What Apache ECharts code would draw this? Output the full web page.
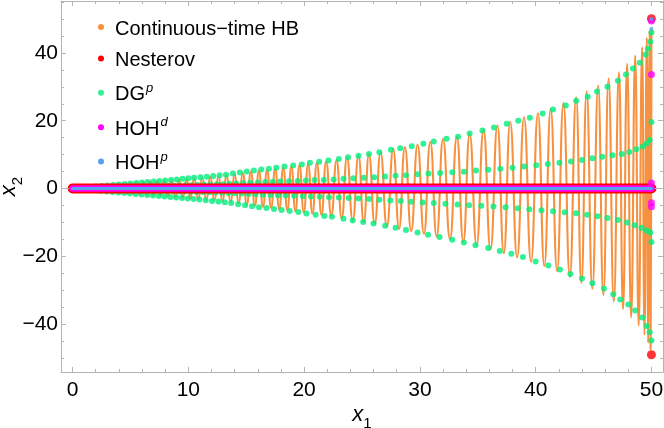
<!DOCTYPE html>
<html>
<head>
<meta charset="utf-8">
<script src="https://cdn.jsdelivr.net/npm/echarts@6/dist/echarts.min.js"></script>
<style>
  html, body { margin: 0; padding: 0; background: #fff; }
  #main { width: 664px; height: 428px; }
</style>
</head>
<body>
<div id="main"></div>
<script>
// tick positions
var xMajor = [0, 10, 20, 30, 40, 50];
var xMinor = [2, 4, 6, 8, 12, 14, 16, 18, 22, 24, 26, 28, 32, 34, 36, 38, 42, 44, 46, 48];
var yMajor = [-40, -20, 0, 20, 40];
var yMinor = [-50, -45, -35, -30, -25, -15, -10, -5, 5, 10, 15, 25, 30, 35, 45, 50, 55];

// continuous-time heavy ball: turning points of the oscillation
var hbPath = [
  [0, 0], [0.8, 0.25], [1.05, -0.3], [1.3, 0.4], [1.55, -0.47], [1.8, 0.55], [2.05, -0.62], [2.3, 0.7],
  [2.55, -0.78], [2.8, 0.85], [3.05, -0.92], [3.3, 1.0], [3.57, -1.05], [3.85, 1.1], [4.12, -1.2], [4.4, 1.3],
  [4.67, -1.37], [4.95, 1.45], [5.22, -1.52], [5.5, 1.6], [5.8, -1.68], [6.1, 1.75], [6.4, -1.85], [6.7, 1.95],
  [7.0, -2.02], [7.3, 2.1], [7.6, -2.2], [7.9, 2.3], [8.22, -2.37], [8.55, 2.45], [8.87, -2.55], [9.2, 2.65],
  [9.52, -2.75], [9.85, 2.85], [10.17, -2.95], [10.5, 3.05], [10.85, -3.15], [11.2, 3.25], [11.55, -3.35], [11.9, 3.45],
  [12.25, -3.57], [12.6, 3.7], [12.95, -3.82], [13.3, 3.95], [13.65, -4.1], [14.0, 4.25], [14.35, -4.42], [14.7, 4.6],
  [15.05, -4.75], [15.4, 4.9], [15.75, -5.05], [16.1, 5.2], [16.45, -5.35], [16.8, 5.5], [17.15, -5.67], [17.5, 5.85],
  [17.85, -6.0], [18.2, 6.15], [18.55, -6.32], [18.9, 6.5], [19.25, -6.67], [19.6, 6.85], [19.97, -7.02], [20.35, 7.2],
  [20.72, -7.37], [21.1, 7.55], [21.5, -7.72], [21.9, 7.9], [22.35, -8.1], [22.8, 8.3], [23.25, -8.75], [23.7, 9.2],
  [24.2, -9.45], [24.7, 9.7], [25.15, -9.95], [25.6, 10.2], [26.1, -10.45], [26.6, 10.7], [27.15, -11.2], [27.7, 11.7],
  [28.2, -11.95], [28.7, 12.2], [29.25, -12.6], [29.8, 13.0], [30.35, -13.35], [30.9, 13.7], [31.45, -14.15], [32.0, 14.6],
  [32.6, -14.95], [33.2, 15.3], [33.75, -15.7], [34.3, 16.1], [34.9, -16.7], [35.5, 17.3], [36.1, -17.95], [36.7, 18.6],
  [37.25, -19.1], [37.8, 19.6], [38.4, -20.3], [39.0, 21.0], [39.6, -21.6], [40.2, 22.2], [40.75, -22.85], [41.3, 23.5],
  [41.85, -24.35], [42.4, 25.2], [42.95, -26.05], [43.5, 26.9], [43.95, -27.8], [44.4, 28.7], [44.9, -29.55], [45.4, 30.4],
  [45.85, -31.4], [46.3, 32.4], [46.75, -33.35], [47.2, 34.3], [47.55, -35.55], [47.9, 36.8], [48.25, -38.0], [48.6, 39.2],
  [48.9, -40.45], [49.2, 41.7], [49.4, -43.1], [49.6, 44.5], [49.72, -45.5], [49.85, 46.6], [49.93, -47.5],
  [50.0, 47.0]
];

// DG^p iterates, four branches
var dgUpperOuter = [
  [2.0, 0.6], [2.5, 0.75], [3.0, 0.9], [3.5, 1.05], [4.0, 1.2], [4.5, 1.35], [5.0, 1.5], [5.5, 1.65], [6.0, 1.8],
  [6.5, 1.95], [7.0, 2.1], [7.5, 2.25], [8.0, 2.4], [8.5, 2.55], [9.0, 2.7], [9.5, 2.85], [10.0, 3.0], [10.5, 3.15],
  [11.05, 3.3], [11.6, 3.5], [12.15, 3.7], [12.7, 3.9], [13.25, 4.1], [13.85, 4.4], [14.45, 4.7], [15.05, 5.0],
  [15.66, 5.3], [16.3, 5.6], [16.96, 5.8], [17.6, 6.1], [18.3, 6.5], [19.06, 6.8], [19.8, 7.1], [20.5, 7.6],
  [21.3, 7.9], [22.1, 8.3], [23.0, 8.7], [23.8, 9.2], [24.7, 9.7], [25.6, 10.2], [26.5, 10.7], [27.5, 11.4],
  [28.3, 11.9], [29.3, 12.5], [30.3, 13.2], [31.2, 13.9], [32.3, 14.7], [33.3, 15.3], [34.3, 16.2], [35.4, 17.1],
  [36.4, 18.0], [37.5, 19.1], [38.5, 20.0], [39.5, 20.9], [40.6, 22.1], [41.5, 23.3], [42.6, 24.5], [43.5, 25.9],
  [44.5, 27.1], [45.3, 28.6], [46.2, 30.0], [47.1, 31.8], [47.8, 33.6], [48.4, 35.4], [49.0, 37.1], [49.5, 39.5],
  [49.7, 41.2], [49.9, 43.3], [50.0, 46.0]
];
var dgUpperInner = [
  [2.25, 0.2], [2.75, 0.25], [3.25, 0.3], [3.75, 0.35], [4.25, 0.4], [4.75, 0.45], [5.25, 0.5], [5.75, 0.55],
  [6.25, 0.6], [6.75, 0.65], [7.25, 0.7], [7.75, 0.75], [8.25, 0.8], [8.75, 0.85], [9.25, 0.9], [9.75, 0.95],
  [10.25, 1.0], [10.8, 1.05], [11.35, 1.1], [11.9, 1.15], [12.45, 1.25], [13.0, 1.3], [13.55, 1.4], [14.15, 1.5],
  [14.75, 1.6], [15.35, 1.7], [16.0, 1.8], [16.65, 1.9], [17.3, 2.0], [17.95, 2.05], [18.7, 2.15], [19.45, 2.25],
  [20.15, 2.35], [20.9, 2.5], [21.7, 2.55], [22.55, 2.65], [23.4, 2.85], [24.25, 3.0], [25.15, 3.15], [26.05, 3.35],
  [27.0, 3.55], [27.9, 3.75], [28.8, 3.95], [29.8, 4.2], [30.75, 4.4], [31.75, 4.6], [32.8, 4.8], [33.8, 4.95],
  [34.85, 5.3], [35.9, 5.55], [36.95, 5.85], [38.0, 6.1], [39.0, 6.5], [40.05, 6.9], [41.05, 7.25], [42.05, 7.6],
  [43.05, 7.95], [44.0, 8.45], [44.9, 8.9], [45.75, 9.35], [46.65, 9.8], [47.45, 10.2], [48.1, 10.8], [48.7, 11.6],
  [49.25, 12.4], [49.6, 13.3], [49.85, 14.3]
];
var dgLowerInner = [
  [2.7, -0.2], [3.2, -0.25], [3.7, -0.3], [4.2, -0.35], [4.7, -0.4], [5.2, -0.45], [5.7, -0.5], [6.2, -0.55],
  [6.7, -0.6], [7.2, -0.65], [7.7, -0.7], [8.2, -0.75], [8.7, -0.8], [9.2, -0.85], [9.7, -0.9], [10.2, -0.95],
  [10.7, -1.0], [11.25, -1.05], [11.8, -1.1], [12.35, -1.15], [12.9, -1.2], [13.45, -1.3], [14.0, -1.4], [14.6, -1.5],
  [15.2, -1.6], [15.8, -1.7], [16.45, -1.8], [17.1, -1.9], [17.75, -2.0], [18.4, -2.05], [19.15, -2.15], [19.9, -2.25],
  [20.6, -2.35], [21.35, -2.45], [22.15, -2.55], [23.0, -2.65], [23.85, -2.8], [24.7, -2.95], [25.6, -3.1], [26.5, -3.3],
  [27.45, -3.5], [28.35, -3.7], [29.25, -3.9], [30.25, -4.1], [31.2, -4.3], [32.2, -4.5], [33.25, -4.7], [34.25, -4.9],
  [35.3, -5.1], [36.35, -5.3], [37.4, -5.55], [38.45, -5.8], [39.45, -6.1], [40.5, -6.4], [41.5, -6.7], [42.5, -7.0],
  [43.5, -7.3], [44.45, -7.7], [45.35, -8.15], [46.2, -8.7], [47.1, -9.3], [47.9, -10.0], [48.55, -10.8], [49.15, -11.6],
  [49.6, -12.4], [49.9, -13.0]
];
var dgLowerOuter = [
  [2.45, -0.7], [2.95, -0.85], [3.45, -1.0], [3.95, -1.15], [4.45, -1.3], [4.95, -1.45], [5.45, -1.6], [5.95, -1.75],
  [6.45, -1.9], [6.95, -2.05], [7.45, -2.2], [7.95, -2.35], [8.45, -2.5], [8.95, -2.65], [9.45, -2.8], [9.95, -2.95],
  [10.45, -3.1], [10.95, -3.25], [11.5, -3.45], [12.05, -3.65], [12.6, -3.85], [13.15, -4.05], [13.7, -4.3], [14.3, -4.6],
  [14.9, -4.9], [15.5, -5.2], [16.1, -5.5], [16.75, -5.75], [17.4, -6.0], [18.05, -6.35], [18.75, -6.65], [19.5, -6.95],
  [20.2, -7.35], [21.0, -7.75], [21.75, -8.1], [22.4, -8.3], [23.4, -8.9], [24.2, -9.4], [25.1, -9.9], [26.0, -10.3],
  [27.0, -11.0], [27.9, -11.6], [28.8, -12.2], [29.8, -13.0], [30.7, -13.6], [31.7, -14.3], [32.8, -15.1], [33.8, -15.9],
  [34.8, -16.7], [35.9, -17.5], [36.9, -18.4], [37.9, -19.2], [38.9, -20.2], [40.0, -21.5], [41.1, -22.7], [42.1, -23.9],
  [43.0, -25.2], [44.0, -26.5], [44.9, -27.9], [45.9, -29.5], [46.7, -31.2], [47.3, -32.7], [48.0, -34.2], [48.6, -36.0],
  [49.2, -38.0], [49.6, -40.5], [49.85, -42.4], [50.0, -44.8]
];
var dgEnd = [[50.0, 19.6], [50.0, -15.8]];

// Nesterov, HOH^d, HOH^p: they sit on x2 = 0 all the way, then a few points at x1 = 50
var zeroPath = [[0, 0], [50, 0]];
var nesterovEnd = [[50.0, 50.1], [50.0, -49.0]];
var hohdEnd = [[50.0, 49.4], [50.0, 33.6], [50.0, 1.6], [50.0, -4.2], [50.0, -5.4]];
var hohpEnd = [[50.0, 50.0], [50.0, 47.1]];

var cHB = '#f8913f', cNes = '#ff0000', cDG = '#00ee7c', cHd = '#ff00ff', cHp = '#5aa2ee';
var gray = '#b4b4b4';
var font = '"Liberation Sans", Arial, sans-serif';

var legendText = {
  'Continuous\u2212time HB': '{n|Continuous\u2212time HB}',
  'Nesterov': '{n|Nesterov}',
  'DGp': '{n|DG}{s|p}',
  'HOHd': '{n|HOH}{s|d}',
  'HOHp': '{n|HOH}{s|p}'
};

function tickLabel(v) {
  return v < 0 ? '\u2212' + (-v) : String(v);
}

function frameAxis(pos, ticks, len, labels, extra) {
  var horiz = pos === 'bottom' || pos === 'top';
  var a = {
    type: 'value',
    position: pos,
    min: horiz ? -1 : -54.1,
    max: horiz ? 51 : 55.3,
    axisLine: { show: !!extra.line, onZero: false, lineStyle: { color: gray, width: 1 } },
    axisTick: { show: true, inside: true, length: len, customValues: ticks, lineStyle: { color: gray, width: 1 } },
    axisLabel: labels ? {
      customValues: ticks, formatter: tickLabel, color: '#000',
      fontSize: 21, fontFamily: font, margin: extra.margin
    } : { show: false },
    splitLine: { show: false }
  };
  if (extra.name) {
    a.name = extra.name;
    a.nameLocation = 'middle';
    a.nameGap = extra.nameGap;
    a.nameRotate = extra.nameRotate || 0;
    a.nameMoveOverlap = false;
    a.nameTextStyle = {
      color: '#000', fontFamily: font,
      rich: {
        i: { fontSize: 22, fontStyle: 'italic', fontFamily: font, color: '#000', verticalAlign: 'bottom', padding: [0, 0, 5, 0] },
        s: { fontSize: 15, fontFamily: font, color: '#000', verticalAlign: 'bottom' }
      }
    };
  }
  return a;
}

var chart = echarts.init(document.getElementById('main'), null, { renderer: 'canvas' });

chart.setOption({
  animation: false,
  backgroundColor: '#fff',
  grid: { left: 61, right: 1, top: 1, bottom: 56, outerBoundsMode: 'none', containLabel: false },
  legend: {
    orient: 'vertical',
    left: 93,
    top: 14,
    itemWidth: 18,
    itemHeight: 6,
    itemGap: 11.4,
    icon: 'circle',
    data: ['Continuous\u2212time HB', 'Nesterov', 'DGp', 'HOHd', 'HOHp'],
    formatter: function (name) { return legendText[name]; },
    textStyle: {
      fontFamily: font, fontSize: 20, color: '#000',
      rich: {
        n: { fontSize: 20, fontFamily: font, color: '#000', verticalAlign: 'bottom', lineHeight: 24 },
        s: { fontSize: 13, fontStyle: 'italic', fontFamily: font, color: '#000', verticalAlign: 'bottom', padding: [0, 0, 10, 1] }
      }
    }
  },
  xAxis: [
    frameAxis('bottom', xMajor, 5, true, { line: true, margin: 8, name: '{i|x}{s|1}', nameGap: 32 }),
    frameAxis('bottom', xMinor, 3, false, {}),
    frameAxis('top', xMajor, 5, false, { line: true }),
    frameAxis('top', xMinor, 3, false, {})
  ],
  yAxis: [
    frameAxis('left', yMajor, 5, true, { line: true, margin: 3, name: '{i|x}{s|2}', nameGap: 36, nameRotate: 90 }),
    frameAxis('left', yMinor, 3, false, {}),
    frameAxis('right', yMajor, 5, false, { line: true }),
    frameAxis('right', yMinor, 3, false, {})
  ],
  series: [
    {
      name: 'Continuous\u2212time HB', type: 'line', data: hbPath, z: 2,
      showSymbol: false, smooth: 0.5, smoothMonotone: 'x',
      lineStyle: { color: cHB, width: 2.1 }, itemStyle: { color: cHB },
      markLine: {
        silent: true, symbol: 'none', label: { show: false }, animation: false,
        lineStyle: { color: gray, width: 1, type: 'solid' },
        data: [{ yAxis: 0 }]
      }
    },
    { name: 'DGp', type: 'scatter', data: dgUpperOuter, symbolSize: 6, itemStyle: { color: cDG }, z: 3 },
    { name: 'DGp', type: 'scatter', data: dgUpperInner, symbolSize: 6, itemStyle: { color: cDG }, z: 3 },
    { name: 'DGp', type: 'scatter', data: dgLowerInner, symbolSize: 6, itemStyle: { color: cDG }, z: 3 },
    { name: 'DGp', type: 'scatter', data: dgLowerOuter, symbolSize: 6, itemStyle: { color: cDG }, z: 3 },
    { name: 'DGp', type: 'scatter', data: dgEnd, symbolSize: 6, itemStyle: { color: cDG }, z: 3 },
    {
      name: 'Nesterov', type: 'line', data: zeroPath, z: 4, showSymbol: false,
      lineStyle: { color: cNes, width: 10, cap: 'round' }, itemStyle: { color: cNes }
    },
    {
      name: 'HOHd', type: 'line', data: zeroPath, z: 5, showSymbol: false,
      lineStyle: { color: cHd, width: 6.5, cap: 'round' }, itemStyle: { color: cHd }
    },
    {
      name: 'HOHp', type: 'line', data: zeroPath, z: 6, showSymbol: false,
      lineStyle: { color: cHp, width: 3, cap: 'round' }, itemStyle: { color: cHp }
    },
    { name: 'Nesterov', type: 'scatter', data: nesterovEnd, symbolSize: 9, itemStyle: { color: cNes }, z: 7 },
    { name: 'HOHd', type: 'scatter', data: hohdEnd, symbolSize: 7, itemStyle: { color: cHd }, z: 8 },
    { name: 'HOHp', type: 'scatter', data: hohpEnd, symbolSize: 4, itemStyle: { color: cHp }, z: 9 }
  ]
});
</script>
</body>
</html>
